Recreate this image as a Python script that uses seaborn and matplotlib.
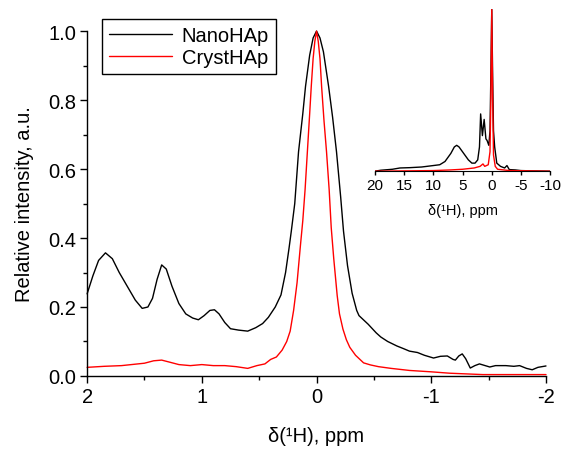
import numpy as np
import pandas as pd
import matplotlib
matplotlib.use("Agg")
import matplotlib.pyplot as plt
from matplotlib.ticker import MultipleLocator
import seaborn as sns

# main panel, 2 .. -2 ppm
nano_ppm = [2.0, 1.95, 1.90, 1.84, 1.78, 1.72, 1.65, 1.58, 1.52, 1.47, 1.43, 1.39, 1.35, 1.31,
            1.26, 1.20, 1.14, 1.08, 1.03, 0.98, 0.93, 0.89, 0.85, 0.80, 0.75, 0.68, 0.60, 0.53,
            0.47, 0.42, 0.36, 0.31, 0.27, 0.24, 0.22, 0.19, 0.157, 0.12, 0.096, 0.06, 0.03, 0.0,
            -0.03, -0.06, -0.105, -0.14, -0.174, -0.21, -0.235, -0.27, -0.31, -0.35, -0.37, -0.45,
            -0.52, -0.56, -0.62, -0.70, -0.76, -0.81, -0.88, -0.94, -1.02, -1.08, -1.14, -1.19,
            -1.21, -1.24, -1.27, -1.30, -1.34, -1.38, -1.42, -1.47, -1.51, -1.56, -1.65, -1.72,
            -1.77, -1.83, -1.88, -1.93, -2.0]
nano_int = [0.238, 0.29, 0.335, 0.357, 0.34, 0.30, 0.26, 0.22, 0.196, 0.20, 0.225, 0.28, 0.322, 0.31,
            0.26, 0.21, 0.18, 0.168, 0.163, 0.175, 0.19, 0.192, 0.18, 0.155, 0.137, 0.133, 0.130, 0.14,
            0.152, 0.17, 0.20, 0.235, 0.30, 0.37, 0.42, 0.50, 0.65, 0.76, 0.84, 0.93, 0.98, 1.0,
            0.98, 0.94, 0.84, 0.75, 0.65, 0.52, 0.42, 0.32, 0.24, 0.19, 0.175, 0.15,
            0.125, 0.113, 0.10, 0.087, 0.079, 0.072, 0.068, 0.060, 0.052, 0.057, 0.058, 0.048,
            0.046, 0.058, 0.064, 0.050, 0.023, 0.030, 0.035, 0.030, 0.026, 0.030, 0.030, 0.028,
            0.030, 0.022, 0.018, 0.025, 0.029]

cryst_ppm = [2.0, 1.85, 1.7, 1.5, 1.42, 1.35, 1.28, 1.2, 1.1, 1.0, 0.9, 0.8, 0.7, 0.6, 0.52,
             0.45, 0.40, 0.35, 0.30, 0.26, 0.23, 0.20, 0.17, 0.14, 0.12, 0.10, 0.08, 0.06, 0.046,
             0.03, 0.015, 0.0, -0.015, -0.03, -0.044, -0.065, -0.087, -0.11, -0.128, -0.15, -0.18,
             -0.20, -0.23, -0.26, -0.29, -0.34, -0.41, -0.47, -0.54, -0.65, -0.81, -1.0, -1.16,
             -1.45, -2.0]
cryst_int = [0.025, 0.028, 0.030, 0.037, 0.044, 0.046, 0.040, 0.033, 0.030, 0.033, 0.030, 0.030, 0.027, 0.022, 0.030,
             0.035, 0.048, 0.055, 0.075, 0.10, 0.13, 0.19, 0.27, 0.38, 0.45, 0.54, 0.65, 0.76, 0.84,
             0.92, 0.97, 1.0, 0.97, 0.92, 0.84, 0.74, 0.65, 0.54, 0.43, 0.34, 0.233,
             0.18, 0.136, 0.105, 0.083, 0.06, 0.038, 0.032, 0.027, 0.022, 0.016, 0.012, 0.008,
             0.004, 0.004]

# inset, 20 .. -10 ppm
ins_nano_ppm = [20, 19, 17, 15.7, 14, 12, 11.1, 10, 8.9, 8, 7, 6.4, 6.0, 5.6, 5, 4, 3.4, 2.86, 2.4,
                2.1, 1.9, 1.6, 1.3, 1.0, 0.8, 0.5, 0.3, 0.15, 0.0, -0.15, -0.3, -0.5, -0.86, -1.5,
                -2.2, -2.6, -3.0, -4, -5, -7, -10]
ins_nano_int = [0.0, 0.006, 0.012, 0.02, 0.022, 0.026, 0.03, 0.035, 0.04, 0.06, 0.11, 0.15, 0.16, 0.15, 0.12, 0.07, 0.05, 0.05, 0.07,
                0.15, 0.354, 0.22, 0.32, 0.2, 0.19, 0.16, 0.25, 0.6, 1.0, 0.6, 0.25, 0.15, 0.05, 0.03,
                0.02, 0.035, 0.01, 0.008, 0.004, 0.002, 0.0]
ins_cryst_ppm = [20, 15, 10, 7, 5, 3, 2, 1.5, 1.2, 0.6, 0.3, 0.15, 0.0, -0.15, -0.3, -0.6, -1.0, -3, -10]
ins_cryst_int = [0.0, 0.002, 0.004, 0.008, 0.012, 0.02, 0.03, 0.045, 0.03, 0.04, 0.12, 0.45, 1.0, 0.45, 0.1, 0.03, 0.012, 0.004, 0.0]

labels = ["NanoHAp", "CrystHAp"]
colors = {"NanoHAp": "black", "CrystHAp": "red"}

main_df = pd.concat([
    pd.DataFrame({"ppm": nano_ppm, "intensity": nano_int, "sample": "NanoHAp"}),
    pd.DataFrame({"ppm": cryst_ppm, "intensity": cryst_int, "sample": "CrystHAp"}),
])
ins_df = pd.concat([
    pd.DataFrame({"ppm": ins_nano_ppm, "intensity": ins_nano_int, "sample": "NanoHAp"}),
    pd.DataFrame({"ppm": ins_cryst_ppm, "intensity": ins_cryst_int, "sample": "CrystHAp"}),
])

sns.set_style("ticks")
plt.rcParams["font.family"] = ["Liberation Sans", "DejaVu Sans"]
plt.rcParams["xtick.direction"] = "out"
plt.rcParams["ytick.direction"] = "out"
for key in ["text.color", "axes.labelcolor", "xtick.color", "ytick.color", "axes.edgecolor"]:
    plt.rcParams[key] = "black"

fig = plt.figure(figsize=(5.62, 4.52), dpi=100)
ax = fig.add_axes([0.155, 0.166, 0.8165, 0.763])
sns.lineplot(data=main_df, x="ppm", y="intensity", hue="sample", hue_order=labels,
             palette=colors, estimator=None, sort=False, linewidth=1.0, ax=ax)
for ln in ax.lines:
    ln.set_clip_on(False)
ax.set_xlim(2, -2)
ax.set_ylim(0, 1.0)
ax.xaxis.set_major_locator(MultipleLocator(1))
ax.xaxis.set_minor_locator(MultipleLocator(0.5))
ax.yaxis.set_major_locator(MultipleLocator(0.2))
ax.yaxis.set_minor_locator(MultipleLocator(0.1))
ax.set_xticks([2, 1, 0, -1, -2])
ax.set_xticklabels(["2", "1", "0", "-1", "-2"])
ax.tick_params(which="major", length=5, width=1, labelsize=14.5, pad=3)
ax.tick_params(which="minor", length=3, width=1)
ax.set_xlabel("δ(¹H), ppm", fontsize=14.5, labelpad=14)
ax.set_ylabel("Relative intensity, a.u.", fontsize=14.5, labelpad=10)
sns.despine(ax=ax)
for sp in ["left", "bottom"]:
    ax.spines[sp].set_linewidth(1)
    ax.spines[sp].set_color("black")

leg = ax.legend(loc="upper left", bbox_to_anchor=(0.033, 1.035), borderaxespad=0,
                fontsize=14.5, handlelength=3.1, fancybox=False, framealpha=1,
                edgecolor="black", borderpad=0.35, labelspacing=0.15, handletextpad=0.5)
leg.get_frame().set_linewidth(1)

# inset
axi = fig.add_axes([0.667, 0.619, 0.312, 0.358])
sns.lineplot(data=ins_df, x="ppm", y="intensity", hue="sample", hue_order=labels,
             palette=colors, estimator=None, sort=False, linewidth=1.0, ax=axi, legend=False)
axi.set_xlim(20, -10)
axi.set_ylim(0, 1.0)
axi.set_xticks([20, 15, 10, 5, 0, -5, -10])
axi.set_xticklabels(["20", "15", "10", "5", "0", "-5", "-10"])
axi.set_yticks([])
axi.set_ylabel("")
axi.set_xlabel("δ(¹H), ppm", fontsize=10.5, labelpad=8)
axi.tick_params(axis="x", length=3, width=1, labelsize=11, pad=2)
axi.patch.set_alpha(0)
for sp in ["left", "top", "right"]:
    axi.spines[sp].set_visible(False)
axi.spines["bottom"].set_color("black")

fig.savefig("out.png", dpi=100)
